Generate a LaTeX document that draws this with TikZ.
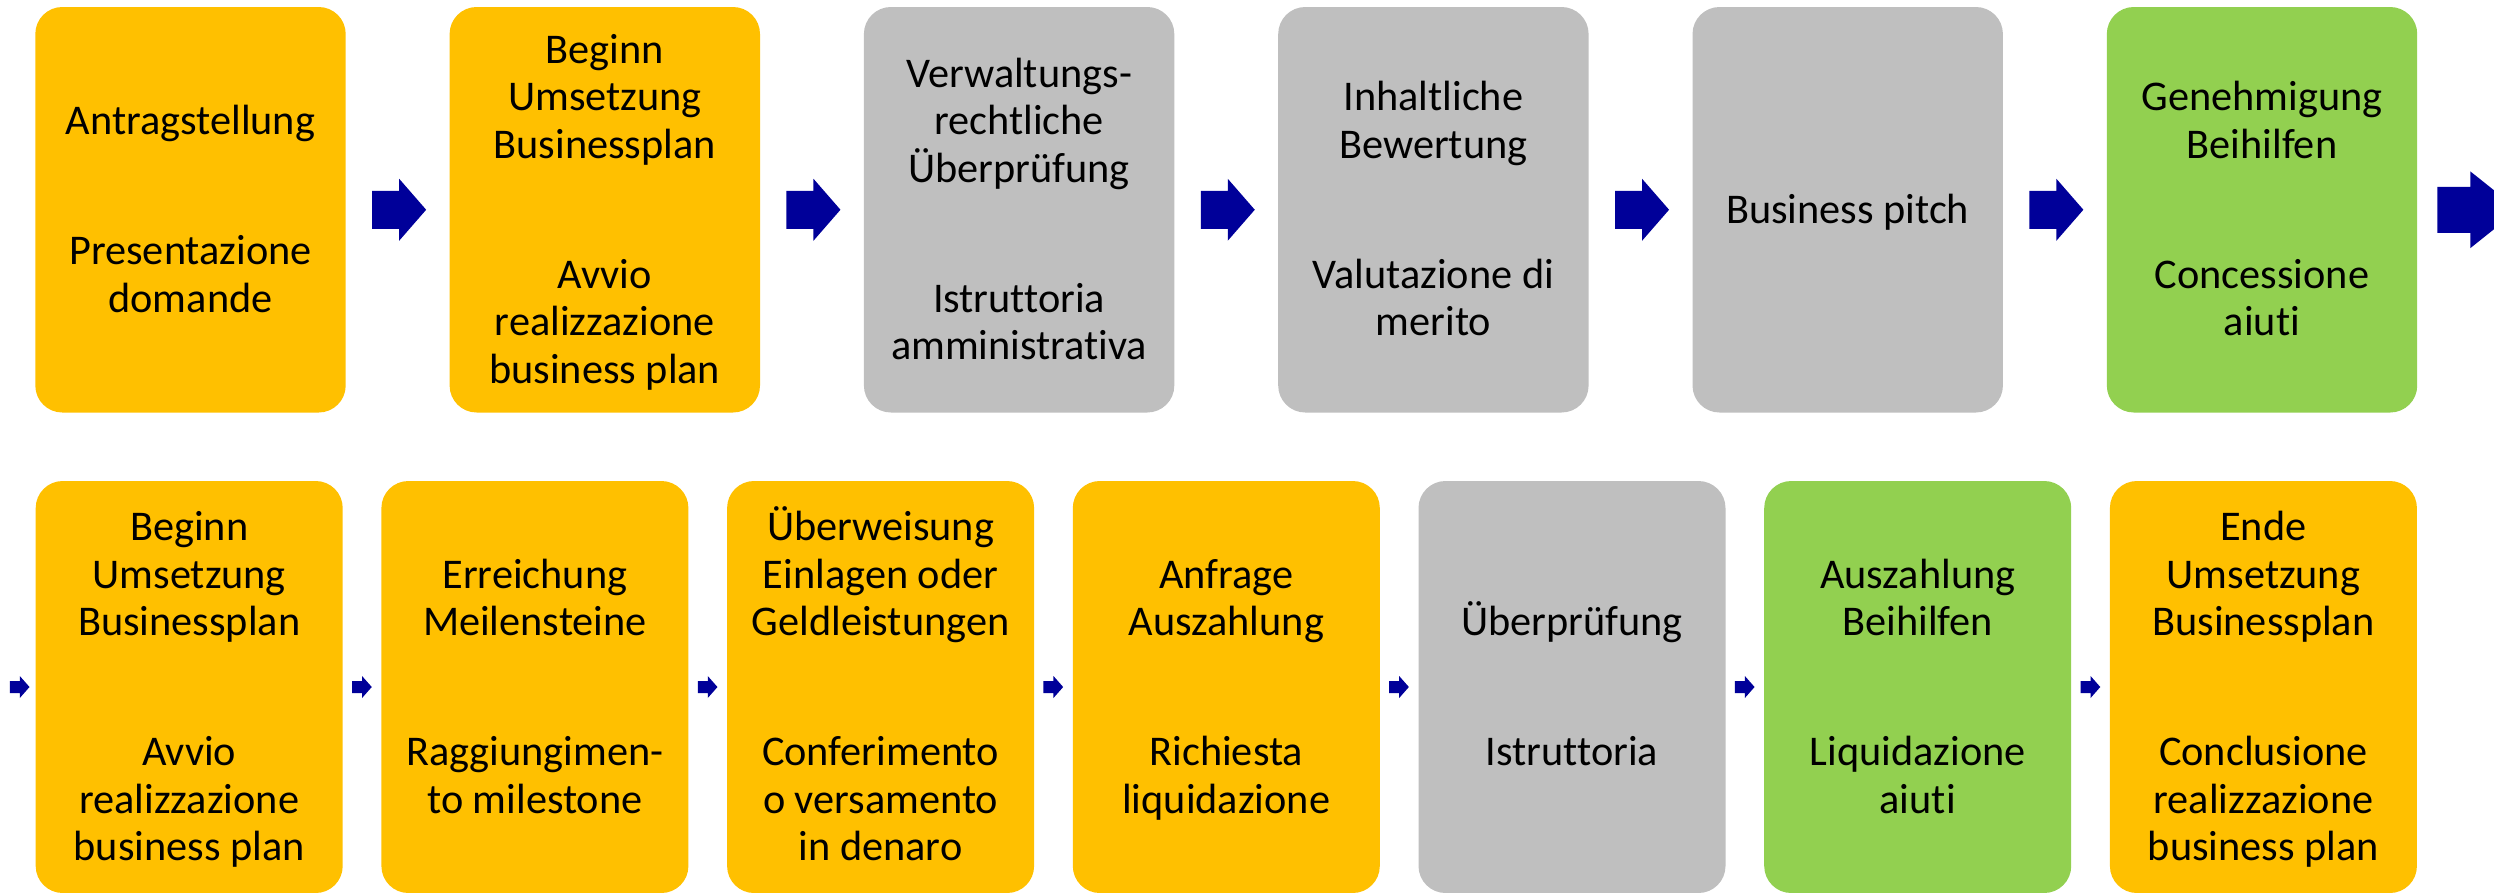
\documentclass[tikz,border=0pt]{standalone}
\usepackage{fontspec}
\setmainfont[Ligatures={NoCommon}]{Carlito}
\usetikzlibrary{calc}
\definecolor{boxyellow}{HTML}{FFC000}
\definecolor{boxgray}{HTML}{BFBFBF}
\definecolor{boxgreen}{HTML}{92D050}
\definecolor{arrowblue}{HTML}{000099}
\newcommand{\gapline}{\\[82.5pt]}
\newcommand{\topstrut}{\rule{0pt}{\dimexpr0.7\baselineskip+8pt\relax}}
\newcommand{\botstrut}{\rule[-0.3\baselineskip]{0pt}{1pt}}
\begin{document}
\begin{tikzpicture}[x=1pt,y=-1pt,
  stage/.style={rounded corners=27pt, inner sep=0pt, align=center,
    font=\fontsize{42.3}{47.5}\selectfont, text=black},
  toprow/.style={stage, minimum width=310.4pt, minimum height=405.5pt},
  botrow/.style={stage, minimum width=307pt, minimum height=412pt},
  yel/.style={fill=boxyellow},
  gry/.style={fill=boxgray},
  grn/.style={fill=boxgreen},
  bigarrow/.pic={\fill[arrowblue] (-27,-19) -- (0,-19) -- (0,-31) -- (27,0) -- (0,31) -- (0,19) -- (-27,19) -- cycle;},
  endarrow/.pic={\fill[arrowblue] (-33,-23) -- (0,-23) -- (0,-38.3) -- (48,0) -- (0,38.3) -- (0,23) -- (-33,23) -- cycle;},
  smallarrow/.pic={\fill[arrowblue] (-10,-6) -- (0,-6) -- (0,-11) -- (9.7,0) -- (0,11) -- (0,6) -- (-10,6) -- cycle;}
]
\useasboundingbox (0,0) rectangle (2494,892);
\clip (0,0) rectangle (2494,892);

% top row
\node[toprow, yel] (t1) at (190.5,209.75) {\topstrut Antragstellung\gapline Presentazione\\domande\botstrut};
\node[toprow, yel] (t2) at (604.8,209.75) {\topstrut Beginn\\Umsetzung\\Businessplan\gapline Avvio\\realizzazione\\business plan\botstrut};
\node[toprow, gry] (t3) at (1019.1,209.75) {\topstrut Verwaltungs-\\rechtliche\\Überprüfung\gapline Istruttoria\\amministrativa\botstrut};
\node[toprow, gry] (t4) at (1433.4,209.75) {\topstrut Inhaltliche\\Bewertung\gapline Valutazione di\\merito\botstrut};
\node[toprow, gry] (t5) at (1847.7,209.75) {\topstrut Business pitch\botstrut};
\node[toprow, grn] (t6) at (2262.0,209.75) {\topstrut Genehmigung\\Beihilfen\gapline Concessione\\aiuti\botstrut};

% bottom row
\node[botrow, yel] (b1) at (189.2,687) {\topstrut Beginn\\Umsetzung\\Businessplan\gapline Avvio\\realizzazione\\business plan\botstrut};
\node[botrow, yel] (b2) at (534.9,687) {\topstrut Erreichung\\Meilensteine\gapline Raggiungimen-\\to milestone\botstrut};
\node[botrow, yel] (b3) at (880.6,687) {\topstrut Überweisung\\Einlagen oder\\Geldleistungen\gapline Conferimento\\o versamento\\in denaro\botstrut};
\node[botrow, yel] (b4) at (1226.3,687) {\topstrut Anfrage\\Auszahlung\gapline Richiesta\\liquidazione\botstrut};
\node[botrow, gry] (b5) at (1572.0,687) {\topstrut Überprüfung\gapline Istruttoria\botstrut};
\node[botrow, grn] (b6) at (1917.7,687) {\topstrut Auszahlung\\Beihilfen\gapline Liquidazione\\aiuti\botstrut};
\node[botrow, yel] (b7) at (2263.4,687) {\topstrut Ende\\Umsetzung\\Businessplan\gapline Conclusione\\realizzazione\\business plan\botstrut};

% arrows
\foreach \a/\b in {t1/t2,t2/t3,t3/t4,t4/t5,t5/t6}
  \pic at ($(\a.east)!0.5!(\b.west)+(1.5,0)$) {bigarrow};
\coordinate (tend) at ($(t6.east)+(53,0)$);
\pic at (tend) {endarrow};
\coordinate (bstart) at ($(b1.west)+(-15.7,0)$);
\pic at (bstart) {smallarrow};
\foreach \a/\b in {b1/b2,b2/b3,b3/b4,b4/b5,b5/b6,b6/b7}
  \pic at ($(\a.east)!0.5!(\b.west)$) {smallarrow};
\end{tikzpicture}
\end{document}
